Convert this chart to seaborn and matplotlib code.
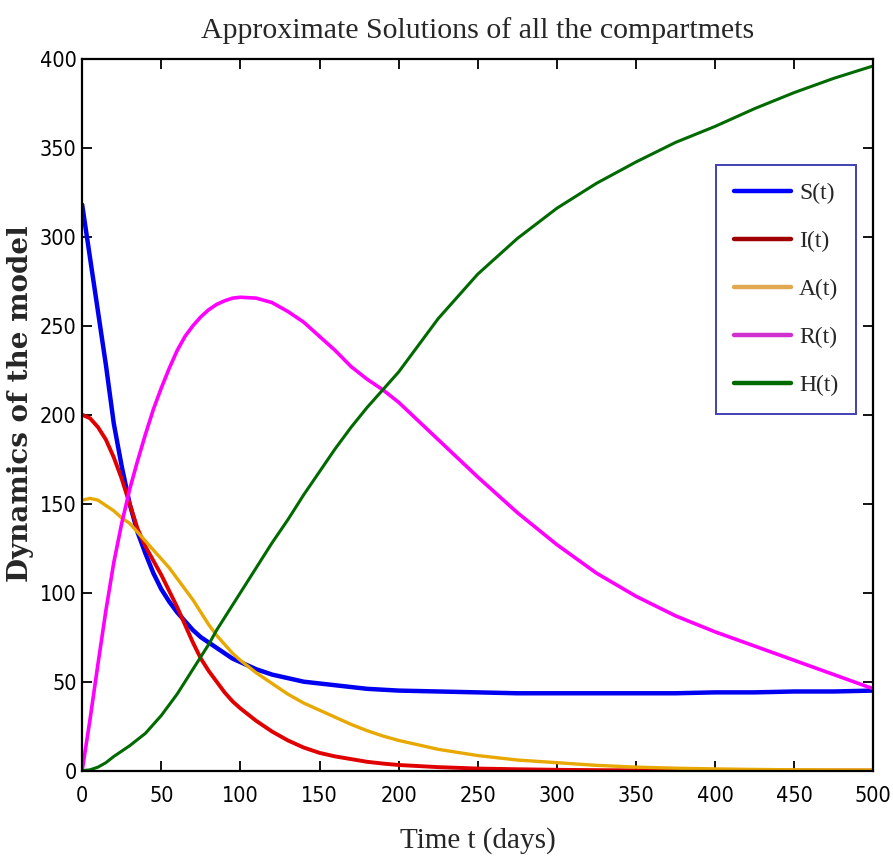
import numpy as np
import pandas as pd
import matplotlib
matplotlib.use("Agg")
import matplotlib.pyplot as plt
from matplotlib.lines import Line2D
import seaborn as sns

# Time grid (days)
t = [0, 5, 10, 15, 20, 25, 30, 35, 40, 45, 50, 55, 60, 65, 70, 75, 80, 85, 90, 95, 100,
     110, 120, 130, 140, 150, 160, 170, 180, 190, 200,
     225, 250, 275, 300, 325, 350, 375, 400, 425, 450, 475, 500]

S = [318, 288, 258, 228, 195, 171, 150, 134, 122, 111, 102, 95, 89, 84, 79, 75, 72, 69, 66, 63, 61,
     57, 54, 52, 50, 49, 48, 47, 46, 45.5, 45,
     44.5, 44, 43.5, 43.5, 43.5, 43.5, 43.5, 44, 44, 44.5, 44.5, 45]

I = [200, 198, 193, 186, 176, 164, 150, 136, 126, 118, 110, 101, 92, 82, 72, 63, 56, 50, 44, 39, 35,
     28, 22, 17, 13, 10, 8, 6.5, 5, 4, 3.2,
     2, 1.2, 0.8, 0.5, 0.3, 0.2, 0.1, 0.1, 0.05, 0.05, 0.05, 0.05]

A = [152, 153, 152, 149, 146, 142, 139, 134, 129, 124, 119, 114, 108, 102, 96, 89, 82, 76, 71, 66, 62,
     55, 49, 43, 38, 34, 30, 26, 22.5, 19.5, 17,
     12, 8.5, 6, 4.5, 3, 2, 1.4, 1, 0.7, 0.5, 0.4, 0.3]

R = [0, 29, 60, 90, 117, 139, 158, 174, 189, 203, 215, 226, 236, 244, 250, 255, 259, 262, 264, 265.5, 266,
     265.5, 263, 258, 252, 244, 236, 227, 220, 214, 207,
     186, 165, 145, 127, 111, 98, 87, 78, 70, 62, 54, 46]

H = [0, 0.5, 2, 4.5, 8, 11, 14, 17.5, 21, 26, 31, 37, 43, 50, 57, 64, 71, 79, 86, 93, 100,
     114, 128, 141, 155, 168, 181, 193, 204, 214, 224,
     254, 279, 299, 316, 330, 342, 353, 362, 372, 381, 389, 396]

labels = ["S(t)", "I(t)", "A(t)", "R(t)", "H(t)"]
line_colors = ["#0000f0", "#e00000", "#e8a800", "#ff00ff", "#006a00"]
legend_colors = ["#0000ff", "#a00000", "#e0a850", "#d030d0", "#006a00"]
line_widths = [3.2, 2.8, 2.4, 2.6, 2.2]

x_ticks = [0, 50, 100, 150, 200, 250, 300, 350, 400, 450, 500]
y_ticks = [0, 50, 100, 150, 200, 250, 300, 350, 400]

df = pd.DataFrame({"t": t, "S(t)": S, "I(t)": I, "A(t)": A, "R(t)": R, "H(t)": H})
long = df.melt(id_vars="t", var_name="compartment", value_name="value")

sns.set_style("white")
serif = ["Liberation Serif", "DejaVu Serif"]
plt.rcParams["font.family"] = serif

fig, ax = plt.subplots(figsize=(8.93, 8.64), dpi=100)
fig.subplots_adjust(left=0.092, right=0.978, top=0.932, bottom=0.108)

for lab, col, lw in zip(labels, line_colors, line_widths):
    sns.lineplot(data=long[long["compartment"] == lab], x="t", y="value",
                 color=col, linewidth=lw, ax=ax, legend=False)

ax.set_xlim(0, 500)
ax.set_ylim(0, 400)
ax.set_xticks(x_ticks)
ax.set_yticks(y_ticks)
ax.tick_params(direction="in", length=7, width=1.3, top=True, right=True,
               bottom=True, left=True, labelsize=15.5, colors="black")
ax.tick_params(axis="x", pad=11)
ax.tick_params(axis="y", pad=4)
for lbl in ax.get_xticklabels() + ax.get_yticklabels():
    lbl.set_fontfamily(["DejaVu Sans"])
    lbl.set_fontstretch("condensed")
for sp in ax.spines.values():
    sp.set_visible(True)
    sp.set_color("black")
    sp.set_linewidth(1.6)

ax.set_title("Approximate Solutions of all the compartmets", fontsize=21.5, pad=15,
             family=serif)
ax.set_xlabel("Time t (days)", fontsize=21, family=serif)
ax.xaxis.set_label_coords(0.5, -0.098)
ax.xaxis.label.set_va("center")
ax.set_ylabel("Dynamics of the model", fontsize=20, fontweight="bold",
              family=["DejaVu Serif"])
ax.yaxis.set_label_coords(-0.0784, 0.515)
ax.yaxis.label.set_va("center")

handles = [Line2D([0], [0], color=c, linewidth=3.2) for c in legend_colors]
leg = ax.legend(handles, labels, loc="upper right", bbox_to_anchor=(0.978, 0.851),
                frameon=True, fancybox=False, handlelength=2.4,
                handletextpad=0.35, labelspacing=1.12, borderpad=0.75, borderaxespad=0,
                prop={"family": serif, "size": 17})
leg.get_frame().set_edgecolor("#1010a0")
leg.get_frame().set_linewidth(1.4)

fig.savefig("out.png", dpi=100)
